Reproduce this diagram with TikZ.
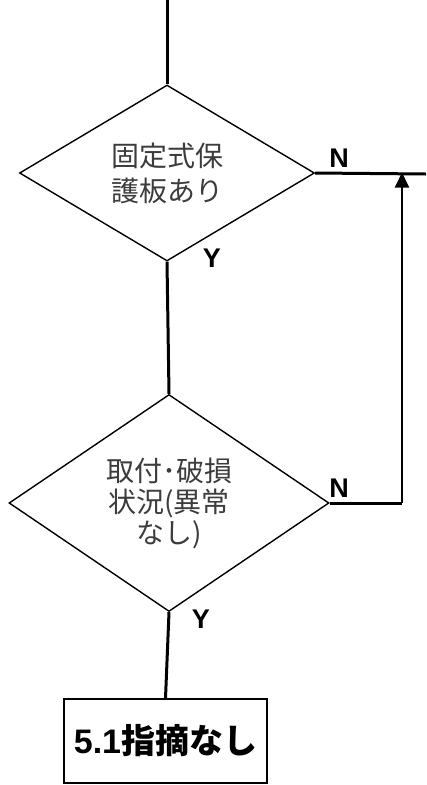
\documentclass[tikz,border=0pt]{standalone}
\usepackage{fontspec}
\usepackage{xcolor}
\usepackage{tikz}
\usetikzlibrary{shapes.geometric, arrows.meta, positioning}
\setsansfont{Liberation Sans}
\newfontfamily\jpfont{Noto Sans CJK JP}
\definecolor{textgray}{RGB}{60,60,60}

\begin{document}
\begin{tikzpicture}[
    x=1pt, y=-1pt,
    decision/.style={diamond, draw, line width=1.4pt, inner sep=0pt, align=center, text=textgray},
    result/.style={draw, line width=1.4pt, inner sep=0pt, minimum width=203pt, minimum height=84pt, font=\jpfont\bfseries\fontsize{34}{40}\selectfont},
    yn/.style={font=\sffamily\bfseries\fontsize{27}{30}\selectfont, inner sep=0pt},
    flow/.style={line width=3pt},
    arrow/.style={-{Triangle[length=15pt, width=14pt]}, line width=2pt}
]
    \useasboundingbox (0,0) rectangle (426,785);

    % Decisions
    \node[decision, minimum width=295pt, minimum height=176pt, font=\jpfont\fontsize{28}{35}\selectfont] (fixed) at (167,173) {固定式保\\護板あり};
    \node[decision, minimum width=320pt, minimum height=204pt, font=\jpfont\fontsize{28}{31}\selectfont] (damage) at (169,503) {取付･破損\\状況(異常\\なし)};

    % Result
    \node[result] (none) at (165.5,741) {{\sffamily 5.1}指摘なし};

    % Free ends
    \coordinate (start) at (167,0);
    \coordinate (exit) at (426,174);
    \coordinate (corner) at (402,503);

    % Labels
    \node[yn] (n1) at (339,158) {N};
    \node[yn] (y1) at (212,258) {Y};
    \node[yn] (n2) at (339,488) {N};
    \node[yn] (y2) at (201,619) {Y};

    % Connections
    \draw[flow] (start) -- (fixed.north);
    \draw[flow] (fixed.east) -- (exit);
    \draw[flow] (fixed.south) -- (damage.north);
    \draw[flow] (damage.south) -- (none.north);
    \draw[flow] (damage.east) -- (corner);
    \draw[arrow] (corner) -- ([yshift=1.5pt]corner |- exit);
\end{tikzpicture}
\end{document}
